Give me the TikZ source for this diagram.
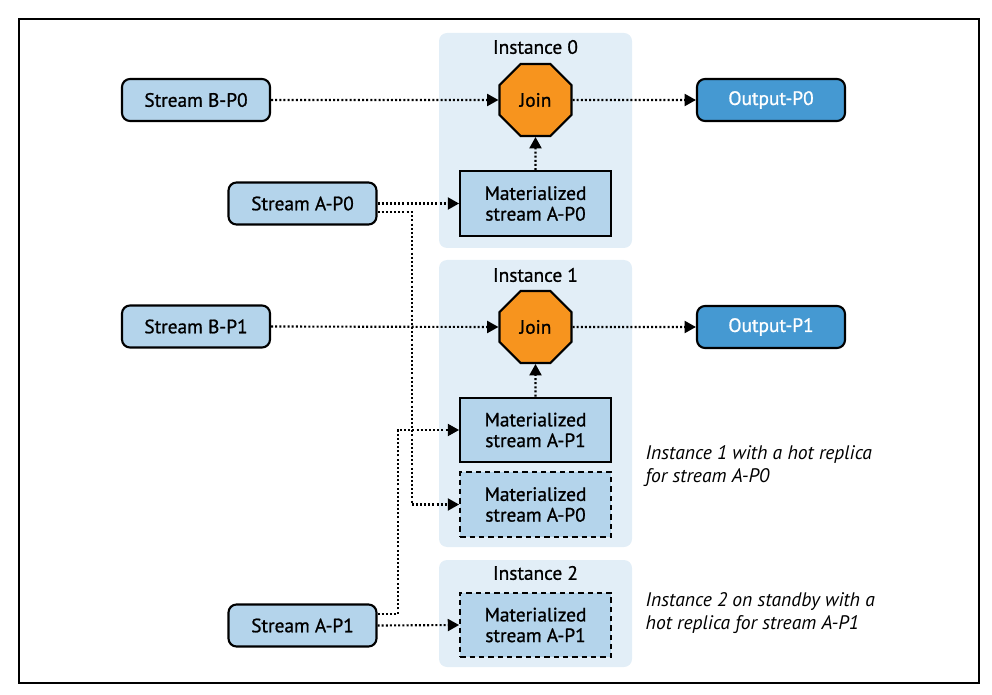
\documentclass[tikz,border=0pt]{standalone}
\usepackage{fontspec}
\setmainfont{PT Sans}
\newfontface\labelfont{PT Sans}[FakeBold=0.9]
\usetikzlibrary{arrows.meta,shapes.geometric}
\definecolor{instbg}{HTML}{E2EEF7}
\definecolor{streamfill}{HTML}{B4D4EB}
\definecolor{outfill}{HTML}{4599D2}
\definecolor{joinfill}{HTML}{F7941E}
\tikzset{
  stream/.style={draw, line width=1.6pt, rounded corners=6pt, fill=streamfill,
    minimum width=111pt, minimum height=31.5pt, inner sep=0pt},
  output/.style={stream, fill=outfill, text=white},
  matbox/.style={draw, line width=1.6pt, fill=streamfill, align=center,
    minimum width=113pt, minimum height=48.5pt, inner sep=0pt},
  replica/.style={matbox, dash pattern=on 4pt off 3pt},
  joinop/.style={draw, line width=1.6pt, fill=joinfill, regular polygon,
    regular polygon sides=8, minimum size=58.4pt, inner sep=0pt},
  instance/.style={fill=instbg, rounded corners=6pt, minimum width=144.75pt, inner sep=0pt},
  flow/.style={line width=1.6pt, dash pattern=on 1.5pt off 1.6pt,
    -{Triangle[length=8.5pt,width=9pt]}},
  note/.style={anchor=west, align=left, font=\fontsize{14.7}{17.2}\selectfont\itshape},
}

\begin{document}
\begin{tikzpicture}[x=0.75pt, y=-0.75pt, font=\fontsize{14.5}{15.5}\selectfont\labelfont]
    \useasboundingbox (0,0) rectangle (992,695);
    \draw[line width=1pt] (19,19) rectangle (979,683);
    % instances
    \node[instance, minimum height=161.25pt] (inst0) at (535.5,140.5) {};
    \node[instance, minimum height=215.25pt] (inst1) at (535.5,403.5) {};
    \node[instance, minimum height=80.25pt] (inst2) at (535.5,613.5) {};
    \node (lab0) at (535.5,47) {Instance 0};
    \node (lab1) at (535.5,275) {Instance 1};
    \node (lab2) at (535.5,573) {Instance 2};
    % partition 0
    \node[stream] (sB0) at (196,100) {Stream B-P0};
    \node[stream] (sA0) at (302.5,203.5) {Stream A-P0};
    \node[joinop] (join0) at (535.5,100) {Join};
    \node[matbox] (mA0) at (535.5,203.5) {Materialized\\stream A-P0};
    \node[output] (oP0) at (771,100) {Output-P0};
    % partition 1
    \node[stream] (sB1) at (196,326.5) {Stream B-P1};
    \node[stream] (sA1) at (302.5,625.5) {Stream A-P1};
    \node[joinop] (join1) at (535.5,327) {Join};
    \node[matbox] (mA1) at (535.5,430) {Materialized\\stream A-P1};
    \node[replica] (mA0r) at (535.5,504.5) {Materialized\\stream A-P0};
    \node[replica] (mA1r) at (535.5,625) {Materialized\\stream A-P1};
    \node[output] (oP1) at (771,327) {Output-P1};
    % notes
    \node[note] (note1) at (641,466.5) {Instance 1 with a hot replica\\for stream A-P0};
    \node[note] (note2) at (641,613.5) {Instance 2 on standby with a\\hot replica for stream A-P1};
    % flows
    \path[flow] (sB0.east) edge (join0.west);
    \path[flow] (join0.east) edge (oP0.west);
    \path[flow] (mA0.north) edge (join0.south);
    \path[flow] (sA0.east) edge (mA0.west);
    \draw[flow] ([yshift=-6.5pt]sA0.east) -- ++(34,0) |- (mA0r.west);
    \path[flow] (sB1.east) edge (join1.west);
    \path[flow] (join1.east) edge (oP1.west);
    \path[flow] (mA1.north) edge (join1.south);
    \draw[flow] ([yshift=8.5pt]sA1.east) -- ++(20,0) |- (mA1.west);
    \path[flow] (sA1.east) edge (mA1r.west);
\end{tikzpicture}
\end{document}
